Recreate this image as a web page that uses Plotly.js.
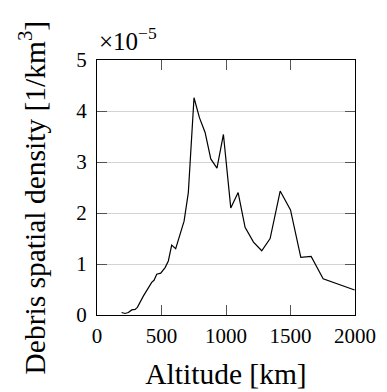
<!DOCTYPE html>
<html>
<head>
<meta charset="utf-8">
<script src="https://cdn.plot.ly/plotly-3.0.1.min.js"></script>
<style>html,body{margin:0;padding:0;background:#fff;}#chart{width:387px;height:392px;}</style>
</head>
<body>
<div id="chart"></div>
<script>
// Altitude [km]
const altitude = [191, 217, 243, 269, 295, 313, 359, 385, 424, 442, 463, 494, 528, 553, 579, 610, 675, 708, 752, 794, 838, 882, 930, 980, 1037, 1094, 1148, 1213, 1277, 1342, 1420, 1500, 1580, 1660, 1753, 1997];
// Debris spatial density, in units of 1e-5 per km^3
const density = [0.05, 0.03, 0.05, 0.10, 0.11, 0.15, 0.37, 0.49, 0.64, 0.68, 0.80, 0.82, 0.93, 1.06, 1.37, 1.30, 1.84, 2.40, 4.26, 3.87, 3.58, 3.06, 2.88, 3.54, 2.10, 2.40, 1.72, 1.43, 1.26, 1.50, 2.43, 2.06, 1.13, 1.15, 0.71, 0.49];
const xTicks = [0, 500, 1000, 1500, 2000];
const yTicks = [0, 1, 2, 3, 4, 5];

const font = {family: 'Liberation Serif, serif', color: '#000'};
const f = s => Object.assign({size: s}, font);

Plotly.newPlot('chart', [{
  x: altitude, y: density, type: 'scatter', mode: 'lines',
  line: {color: '#000', width: 1.2}, hoverinfo: 'none'
}], {
  width: 387, height: 392,
  margin: {l: 97, r: 32, t: 60, b: 77},
  paper_bgcolor: '#fff', plot_bgcolor: '#fff',
  showlegend: false,
  font: f(21),
  xaxis: {
    range: [0, 2000], tickvals: xTicks, ticktext: xTicks.map(String),
    ticks: 'inside', ticklen: 10, tickcolor: '#555', tickwidth: 1,
    showline: true, linecolor: '#000', linewidth: 1, mirror: 'ticks',
    showgrid: false, zeroline: false, ticklabelstandoff: 2,
    tickfont: f(21),
    title: {text: 'Altitude [km]', font: f(29.5), standoff: 16}
  },
  yaxis: {
    range: [0, 5], tickvals: yTicks, ticktext: yTicks.map(String),
    ticks: 'inside', ticklen: 10, tickcolor: '#555', tickwidth: 1,
    showline: true, linecolor: '#000', linewidth: 1, mirror: 'ticks',
    showgrid: true, gridcolor: '#d3d3d3', gridwidth: 1, zeroline: false,
    ticklabelstandoff: 5,
    tickfont: f(21)
  },
  annotations: [{
    text: '×10<sup>−5</sup>', xref: 'paper', yref: 'paper', x: 0, y: 1,
    xanchor: 'left', yanchor: 'bottom', yshift: 3, showarrow: false,
    font: f(25)
  }, {
    // y-axis title
    text: 'Debris spatial density [1/km<sup>3</sup>]', xref: 'paper', yref: 'paper',
    x: 0, y: 0.5, xanchor: 'center', yanchor: 'middle', xshift: -65, yshift: -10,
    textangle: -90, showarrow: false, font: f(29.5)
  }]
}, {staticPlot: true});
</script>
</body>
</html>
